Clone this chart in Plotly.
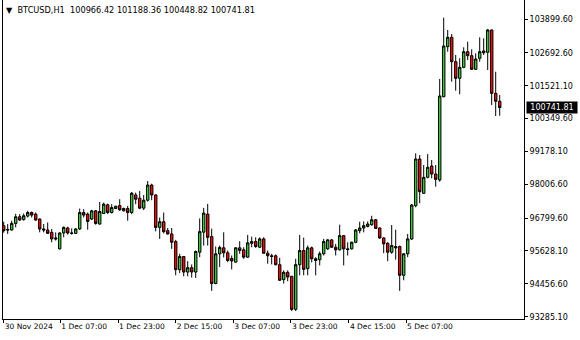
import plotly.graph_objects as go

symbol = "BTCUSD,H1"

opens = [96529.4, 96398.5, 96377.3, 96610.8, 96847.8, 96752.3, 96872.6, 97000.0, 96943.3, 96766.4,
         96412.6, 96377.3, 96292.4, 96094.2, 95705.0, 96271.1, 96448.0, 96271.1, 96257.0, 96412.6,
         97000.0, 96943.3, 96766.4, 97060.1, 96589.5, 96964.6, 97272.4, 97000.0, 97141.5, 97247.6,
         97060.1, 97141.5, 97000.0, 97626.2, 97509.4, 97155.6, 97438.7, 97980.0, 97626.2, 96469.3,
         96670.9, 96352.5, 96235.7, 95963.3, 94962.1, 95432.6, 94877.2, 95032.8, 94877.2, 95584.8,
         96299.4, 96943.3, 96140.2, 94466.7, 95528.1, 95740.4, 95563.5, 95361.9, 95230.9, 95740.4,
         95669.7, 95407.9, 95903.2, 95963.3, 95761.7, 96058.8, 95549.4, 95457.4, 95457.4, 95139.0,
         94608.3, 94866.5, 94725.0, 93546.9, 95139.0, 95644.9, 94997.4, 95740.4, 95351.2, 95315.9,
         95528.1, 95705.0, 96023.5, 95761.7, 95669.7, 96175.6, 95705.0, 95705.0, 95938.6, 96352.5,
         96448.0, 96504.6, 96564.8, 96741.7, 96448.0, 96094.2, 95903.2, 95584.8, 95786.4, 95786.4,
         94760.4, 95528.1, 96055.5, 97242.8, 98907.9, 97684.9, 98255.4, 98658.3, 98373.0, 98159.1,
         101129.2, 102911.9, 103247.1, 102377.1, 101785.2, 102177.4, 102733.6, 102591.0, 102106.1, 102498.3,
         102758.6, 102712.2, 103507.3, 101250.4, 100966.42]

highs = [96670.9, 96589.5, 96706.3, 96954.0, 96943.3, 96964.6, 97060.1, 97035.3, 97000.0, 96787.7,
         96589.5, 96646.2, 96412.6, 96292.4, 96292.4, 96504.6, 96494.0, 96433.9, 96448.0, 97141.5,
         97120.2, 97000.0, 97095.5, 97084.9, 97378.5, 97353.8, 97318.4, 97297.1, 97237.0, 97474.0,
         97176.9, 97237.0, 97732.3, 97707.6, 97767.7, 97626.2, 98121.5, 98026.0, 97650.9, 96823.1,
         97000.0, 96448.0, 96448.0, 96023.5, 95528.1, 95445.0, 95266.3, 95149.6, 95644.9, 96787.7,
         97166.2, 97307.8, 96423.3, 95786.4, 95821.8, 96292.4, 95644.9, 95468.0, 95761.7, 95973.9,
         95761.7, 96200.4, 96140.2, 96115.5, 96115.5, 96115.5, 95644.9, 95528.1, 95503.4, 95386.6,
         94937.3, 94937.3, 94742.7, 95351.2, 96200.4, 96105.0, 95821.8, 95786.4, 95407.9, 95609.5,
         96058.8, 96058.8, 96058.8, 95881.9, 96564.8, 96190.0, 95938.6, 95963.3, 96412.6, 96670.9,
         96681.5, 96681.5, 96883.2, 96766.4, 96469.3, 96115.5, 95938.6, 96554.2, 96387.9, 95821.8,
         95549.4, 96235.7, 97303.4, 99111.1, 99050.5, 98693.9, 99086.1, 98872.2, 98693.9, 101760.3,
         103945.9, 103507.3, 103364.7, 102616.0, 102498.3, 102890.5, 103090.2, 102819.2, 102676.6, 103247.1,
         103211.4, 103543.0, 103525.2, 102020.5, 101188.36]

lows = [96281.7, 96235.7, 96352.5, 96469.3, 96706.3, 96706.3, 96823.1, 96823.1, 96706.3, 96292.4,
        96292.4, 96235.7, 95938.6, 95998.7, 95680.3, 96115.5, 96211.0, 96211.0, 96235.7, 96377.3,
        96823.1, 96387.9, 96731.1, 96564.8, 96564.8, 96943.3, 96943.3, 96964.6, 97120.2, 97060.1,
        97035.3, 96706.3, 96943.3, 97297.1, 97120.2, 97084.9, 97389.1, 97438.7, 96327.7, 96058.8,
        96257.0, 96211.0, 95705.0, 94760.4, 94841.8, 94725.0, 94725.0, 94679.0, 94664.9, 95407.9,
        95821.8, 95821.8, 94204.9, 94442.0, 95054.1, 95397.2, 95230.9, 94972.7, 95209.7, 95528.1,
        95351.2, 95386.6, 95761.7, 95740.4, 95740.4, 95528.1, 95174.3, 95149.6, 95114.2, 94558.7,
        94466.7, 94548.1, 93486.7, 93486.7, 94760.4, 94760.4, 94760.4, 95220.3, 94760.4, 95114.2,
        95468.0, 95669.7, 95740.4, 95468.0, 95644.9, 95114.2, 95468.0, 95680.3, 95903.2, 96257.0,
        96292.4, 96469.3, 96529.4, 96412.6, 96058.8, 95549.4, 95266.3, 95528.1, 95320.0, 94204.9,
        94583.5, 95407.9, 96019.8, 97185.7, 97328.3, 97659.9, 98219.7, 98219.7, 97920.2, 98098.5,
        101107.8, 102733.6, 101664.0, 101343.1, 101214.7, 102141.8, 102437.7, 102081.1, 102081.1, 102377.1,
        102616.0, 102081.1, 100833.2, 100441.0, 100448.82]

closes = [96352.5, 96377.3, 96610.8, 96847.8, 96731.1, 96883.2, 97000.0, 96908.0, 96731.1, 96412.6,
          96377.3, 96257.0, 96058.8, 96058.8, 96271.1, 96469.3, 96271.1, 96257.0, 96412.6, 97000.0,
          96908.0, 96681.5, 97060.1, 96610.8, 97035.3, 97297.1, 97000.0, 97176.9, 97226.4, 97095.5,
          97141.5, 97000.0, 97686.3, 97474.0, 97155.6, 97438.7, 97980.0, 97626.2, 96469.3, 96670.9,
          96317.1, 96235.7, 95938.6, 94962.1, 95432.6, 94877.2, 95032.8, 94877.2, 95609.5, 96317.1,
          96978.7, 96115.5, 94466.7, 95528.1, 95751.0, 95563.5, 95291.1, 95273.4, 95740.4, 95644.9,
          95407.9, 95917.3, 95963.3, 95786.4, 96058.8, 95549.4, 95457.4, 95432.6, 95139.0, 94583.5,
          94866.5, 94700.3, 93546.9, 95139.0, 95644.9, 94972.7, 95740.4, 95351.2, 95291.1, 95528.1,
          95963.3, 96023.5, 95761.7, 95669.7, 96175.6, 95705.0, 95680.3, 95938.6, 96377.3, 96448.0,
          96529.4, 96589.5, 96741.7, 96433.9, 96094.2, 95881.9, 95584.8, 95821.8, 95740.4, 94760.4,
          95528.1, 96058.8, 97267.7, 98907.9, 97741.9, 98255.4, 98611.9, 98373.0, 98184.1, 101154.1,
          102936.9, 103247.1, 102377.1, 101785.2, 102177.4, 102733.6, 102591.0, 102106.1, 102473.4, 102733.6,
          102698.0, 103507.3, 101250.4, 100966.42, 100741.81]

bars = list(range(len(opens)))

x_tick_pos = [0, 14.15, 28.6, 43.0, 57.4, 71.8, 86.3, 100.6]
x_tick_text = ["30 Nov 2024", "1 Dec 07:00", "1 Dec 23:00", "2 Dec 15:00",
               "3 Dec 07:00", "3 Dec 23:00", "4 Dec 15:00", "5 Dec 07:00"]

y_tick_vals = [103899.60, 102692.60, 101521.10, 100349.60, 99178.10,
               98006.60, 96799.60, 95628.10, 94456.60, 93285.10]

FONT = "Tahoma, DejaVu Sans, sans-serif"

fig = go.Figure(go.Candlestick(
    x=bars, open=opens, high=highs, low=lows, close=closes,
    increasing=dict(fillcolor="#2FCB2F", line=dict(color="black", width=1)),
    decreasing=dict(fillcolor="#FF0000", line=dict(color="black", width=1)),
    whiskerwidth=0, hoverinfo="skip", showlegend=False,
))

title_text = "▼  " + symbol + "  " + " ".join(
    f"{v:.2f}" for v in (opens[-1], highs[-1], lows[-1], closes[-1]))

fig.update_layout(
    width=580, height=340,
    margin=dict(l=3, r=56, t=0, b=21, pad=0),
    paper_bgcolor="white", plot_bgcolor="white",
    boxgap=0.12,
    showlegend=False,
    font=dict(family=FONT, size=8, color="black"),
    xaxis=dict(
        range=[-0.175, 130.075], showgrid=False, zeroline=False,
        showline=True, linecolor="black", linewidth=1,
        ticks="outside", ticklen=3, tickcolor="black", tickwidth=1,
        tickvals=x_tick_pos, ticktext=x_tick_text,
        ticklabelposition="outside right",
        tickfont=dict(family=FONT, size=7.5, color="black"),
        rangeslider=dict(visible=False), fixedrange=True,
    ),
    yaxis=dict(
        side="right", range=[93203.0, 104577.0], showgrid=False, zeroline=False,
        showline=True, mirror=True, linecolor="black", linewidth=1,
        ticks="outside", ticklen=3, tickcolor="black", tickwidth=1,
        tickvals=y_tick_vals, ticktext=[f"{v:.2f}" for v in y_tick_vals],
        tickfont=dict(family=FONT, size=8, color="black"),
        fixedrange=True,
    ),
    annotations=[
        dict(text=title_text, xref="paper", yref="paper", x=0, y=1,
             xanchor="left", yanchor="top", showarrow=False, xshift=1, yshift=-3,
             font=dict(family=FONT, size=8.2, color="black")),
        dict(text=f"{closes[-1]:.2f}", xref="paper", yref="y", x=1, y=closes[-1],
             xanchor="left", yanchor="middle", showarrow=False, xshift=2,
             bgcolor="black", borderpad=1, width=48, align="center",
             font=dict(family=FONT, size=8, color="white")),
    ],
)

fig.write_html("out.html")
